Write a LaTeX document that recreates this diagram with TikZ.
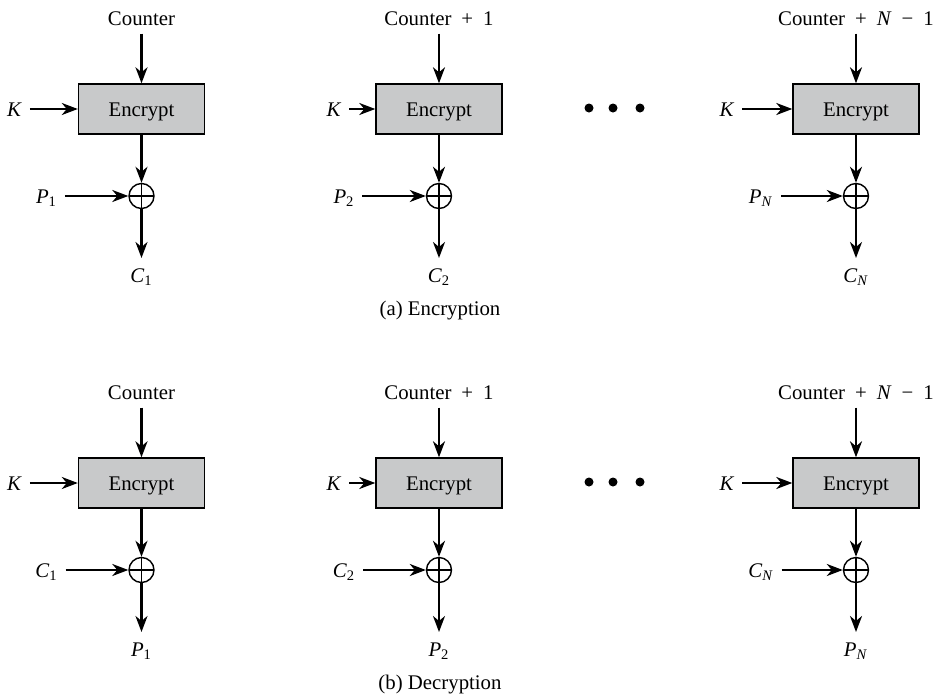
\documentclass[tikz,border=0pt]{standalone}
\usepackage{fontspec}
\setmainfont{Liberation Serif}
\usetikzlibrary{arrows.meta}
\definecolor{boxgray}{RGB}{200,201,202}
\newcommand{\sym}[2]{\textit{#1}\textsubscript{#2}}
\newcommand{\op}[1]{\hspace{5pt}#1\hspace{5pt}}
\begin{document}
\begin{tikzpicture}[x=0.5pt,y=-0.5pt,
    font=\fontsize{10.4pt}{12pt}\selectfont,
    arr/.style={line width=1.2pt,-{Stealth[length=8pt,width=6pt,inset=2.5pt]}},
    encbox/.style={draw,line width=0.7pt,fill=boxgray,minimum width=63pt,minimum height=25pt,
        inner sep=0pt,text height=7pt,text depth=0pt},
    xorgate/.style={draw,circle,line width=0.7pt,minimum size=12.5pt,inner sep=0pt,
        path picture={\draw[line width=0.6pt] (path picture bounding box.north) -- (path picture bounding box.south)
            (path picture bounding box.west) -- (path picture bounding box.east);}},
    lbl/.style={inner sep=0pt,outer sep=4pt,text height=7pt,text depth=0pt}]
    \useasboundingbox (0,0) rectangle (944,697);
    \foreach \r/\yc/\a/\b in {a/109/P/C, b/483/C/P} {
        \foreach \i/\cx/\dk/\s/\ctr in {1/141.5/-127/1/Counter,
                2/439/-105/2/{Counter\op{+}1},
                N/856/-129/{\textit{N}}/{Counter\op{+}\textit{N}\op{−}1}} {
            \node[encbox] (enc\r\i) at (\cx,\yc) {Encrypt};
            \node[lbl] (ctr\r\i) at (\cx,\yc-90.5) {\ctr};
            \node[lbl] (key\r\i) at (\cx+\dk,\yc) {\textit{K}};
            \node[xorgate] (xor\r\i) at (\cx,\yc+87) {};
            \node[lbl] (in\r\i) at (\cx-95,\yc+87) {\sym{\a}{\s}};
            \node[lbl,outer sep=5pt] (out\r\i) at (\cx,\yc+166) {\sym{\b}{\s}};
            \draw[arr] (ctr\r\i) -- (enc\r\i);
            \draw[arr] (key\r\i) -- (enc\r\i);
            \draw[arr] (enc\r\i) -- (xor\r\i);
            \draw[arr] (in\r\i) -- (xor\r\i);
            \draw[arr] (xor\r\i) -- (out\r\i);
        }
        % dots between the blocks
        \foreach \dx in {589,613,640}
            \fill (\dx,\yc-1) circle (2.25pt);
    }
    \node (capa) at (440,311) {(a) Encryption};
    \node (capb) at (440,685) {(b) Decryption};
\end{tikzpicture}
\end{document}
